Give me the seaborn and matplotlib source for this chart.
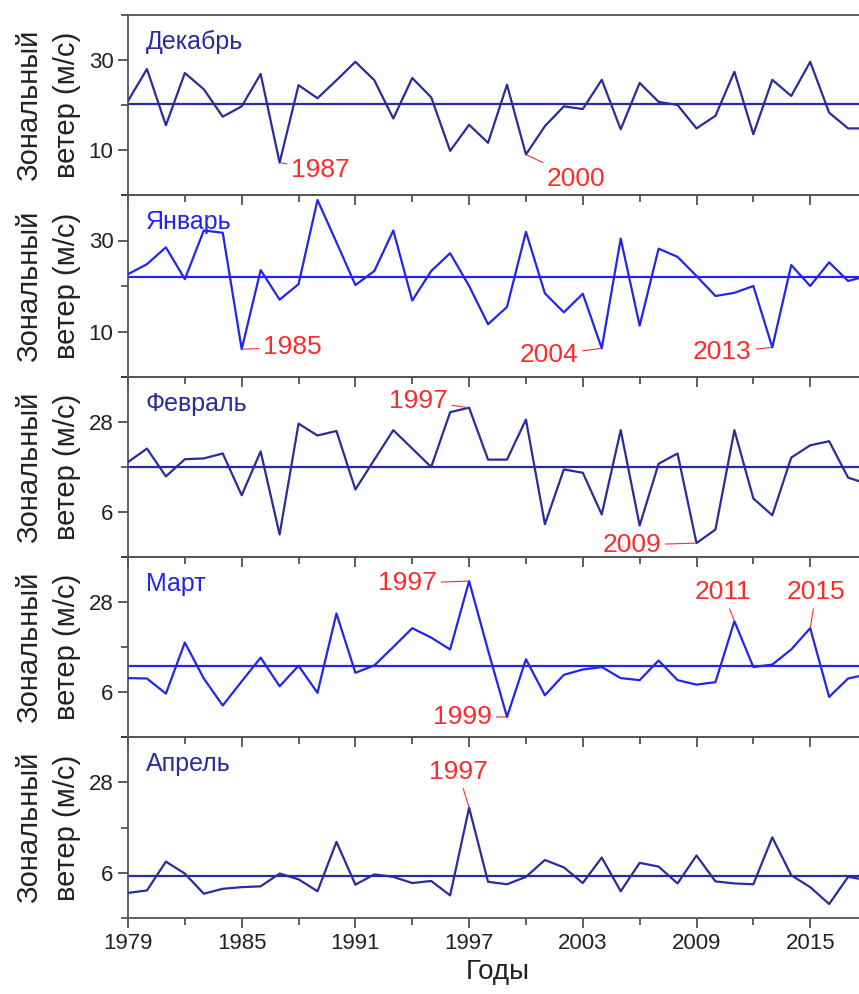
import numpy as np
import pandas as pd
import matplotlib
matplotlib.use("Agg")
import matplotlib.pyplot as plt
import seaborn as sns
from matplotlib.ticker import MultipleLocator, FixedLocator

# ---------------- data ----------------
years = list(range(1979, 2019))

months = ["Декабрь", "Январь", "Февраль", "Март", "Апрель"]

dec = [20.9, 28.0, 15.5, 27.1, 23.5, 17.4, 19.7, 26.9, 7.2, 24.4,
       21.5, 25.5, 29.6, 25.5, 17.0, 26.0, 21.7, 9.8, 15.6, 11.6,
       24.5, 9.0, 15.3, 19.7, 19.1, 25.6, 14.6, 24.9, 20.7, 20.0,
       14.8, 17.6, 27.4, 13.5, 25.6, 22.0, 29.6, 18.3, 14.8, 14.8]

jan = [22.6, 24.8, 28.5, 21.5, 32.2, 31.7, 6.1, 23.5, 17.0, 20.4,
       38.9, 29.6, 20.2, 23.3, 32.2, 16.8, 23.3, 27.2, 20.0, 11.6,
       15.4, 31.9, 18.4, 14.2, 18.3, 6.3, 30.4, 11.3, 28.2, 26.4,
       22.2, 17.8, 18.5, 20.0, 6.5, 24.6, 20.0, 25.2, 21.1, 22.2]

feb = [18.2, 21.5, 14.7, 18.9, 19.1, 20.3, 10.1, 20.8, 0.5, 27.6,
       24.7, 25.8, 11.5, 18.8, 26.0, 21.5, 17.0, 30.4, 31.5, 18.8,
       18.8, 28.6, 3.0, 16.4, 15.6, 5.4, 26.0, 2.7, 17.8, 20.3,
       -1.6, 1.7, 26.0, 9.3, 5.2, 19.3, 22.3, 23.3, 14.4, 12.9]

mar = [9.4, 9.3, 5.6, 18.1, 9.3, 2.7, 8.6, 14.4, 7.4, 12.4,
       5.8, 25.2, 10.7, 12.5, 17.0, 21.6, 19.3, 16.4, 33.1, 16.2,
       -0.1, 14.0, 5.2, 10.2, 11.5, 12.1, 9.4, 8.9, 13.7, 8.9,
       7.8, 8.4, 23.3, 12.1, 12.7, 16.4, 21.6, 4.8, 9.3, 10.3]

apr = [1.1, 1.7, 8.7, 5.8, 0.9, 2.1, 2.5, 2.7, 5.8, 4.4,
       1.5, 13.5, 3.1, 5.6, 5.0, 3.5, 4.0, 0.5, 21.8, 3.8,
       3.2, 5.0, 9.1, 7.3, 3.5, 9.7, 1.5, 8.4, 7.5, 3.4,
       10.2, 3.9, 3.4, 3.2, 14.6, 5.4, 2.5, -1.6, 5.0, 4.2]

means = [20.2, 21.9, 17.0, 12.4, 5.3]

# annotated years per panel
marked_years = [[1987, 2000], [1985, 2004, 2013], [1997, 2009],
                [1997, 1999, 2011, 2015], [1997]]

series = [dec, jan, feb, mar, apr]

# ---------------- styling ----------------
sns.set_style("ticks")
plt.rcParams["font.family"] = ["Liberation Sans", "DejaVu Sans"]

navy = "#2b2b9c"
blue = "#2424f0"
line_colors = [navy, blue, navy, blue, navy]
red = "#ff2a2a"

ylims = [(0, 40), (0, 40), (-5, 39), (-5, 39), (-5, 39)]
ymajor = [[10, 30], [10, 30], [6, 28], [6, 28], [6, 28]]
yminor = [[0, 20, 40], [0, 20, 40], [-5, 17, 39], [-5, 17, 39], [-5, 17, 39]]

# annotation text offsets (pixels) relative to the point
offsets = [[(41, -7), (50, -24)],
           [(51, 2), (-53, -7), (-50, -5)],
           [(-51, 7), (-65, -2)],
           [(-62, -2), (-45, 0), (-11, 29), (6, 36)],
           [(-11, 36)]]

W, H = 859, 994
fig = plt.figure(figsize=(W / 100, H / 100), dpi=100)

left_px = 128
px_per_year = 18.95
right_px = left_px + (2018 - 1979) * px_per_year
tops = [15, 195, 377, 557, 737]
bottoms = [195, 377, 557, 737, 918]

axes = []
for i in range(5):
    ax = fig.add_axes([left_px / W, 1 - bottoms[i] / H,
                       (right_px - left_px) / W, (bottoms[i] - tops[i]) / H])
    ax.patch.set_alpha(0)
    df = pd.DataFrame({"year": years, "value": series[i]})
    sns.lineplot(data=df, x="year", y="value", ax=ax, color=line_colors[i],
                 lw=1.6, zorder=3)
    ax.axhline(means[i], color=line_colors[i], lw=1.6, zorder=2)
    ax.set_xlim(1979, 2018)
    ax.set_ylim(*ylims[i])
    ax.yaxis.set_major_locator(FixedLocator(ymajor[i]))
    ax.yaxis.set_minor_locator(FixedLocator(yminor[i]))
    ax.xaxis.set_major_locator(FixedLocator(list(range(1979, 2019, 6))))
    ax.xaxis.set_minor_locator(FixedLocator(list(range(1982, 2019, 6))))
    ax.tick_params(axis="both", which="major", direction="out", length=7,
                   width=1.1, labelsize=16, color="#333333", labelcolor="#222222")
    ax.tick_params(axis="both", which="minor", direction="out", length=5,
                   width=1.1, color="#333333")
    ax.tick_params(axis="y", which="both", right=False)
    if i < 4:
        ax.tick_params(axis="x", which="both", labelbottom=False)
        ax.set_xlabel("")
    else:
        ax.set_xlabel("Годы", fontsize=20, color="#222222", labelpad=4)
    for s in ["left", "top", "bottom"]:
        ax.spines[s].set_color("#555555")
        ax.spines[s].set_linewidth(1.3)
    ax.spines["right"].set_visible(False)
    ax.set_ylabel("Зональный\nветер (м/с)", fontsize=21, color="#222222",
                  linespacing=1.45)
    ax.yaxis.set_label_coords(-0.064, 0.5)
    ax.text(0.024, 0.85, months[i], transform=ax.transAxes, fontsize=18,
            color=line_colors[i], ha="left", va="center")
    for yr, off in zip(marked_years[i], offsets[i]):
        val = series[i][years.index(yr)]
        ax.annotate(str(yr), xy=(yr, val), xytext=off,
                    textcoords="offset pixels", fontsize=19, color=red,
                    ha="center", va="center", zorder=5,
                    arrowprops=dict(arrowstyle="-", color=red, lw=0.8,
                                    shrinkA=1, shrinkB=1))
    axes.append(ax)

fig.savefig("out.png", dpi=100)
